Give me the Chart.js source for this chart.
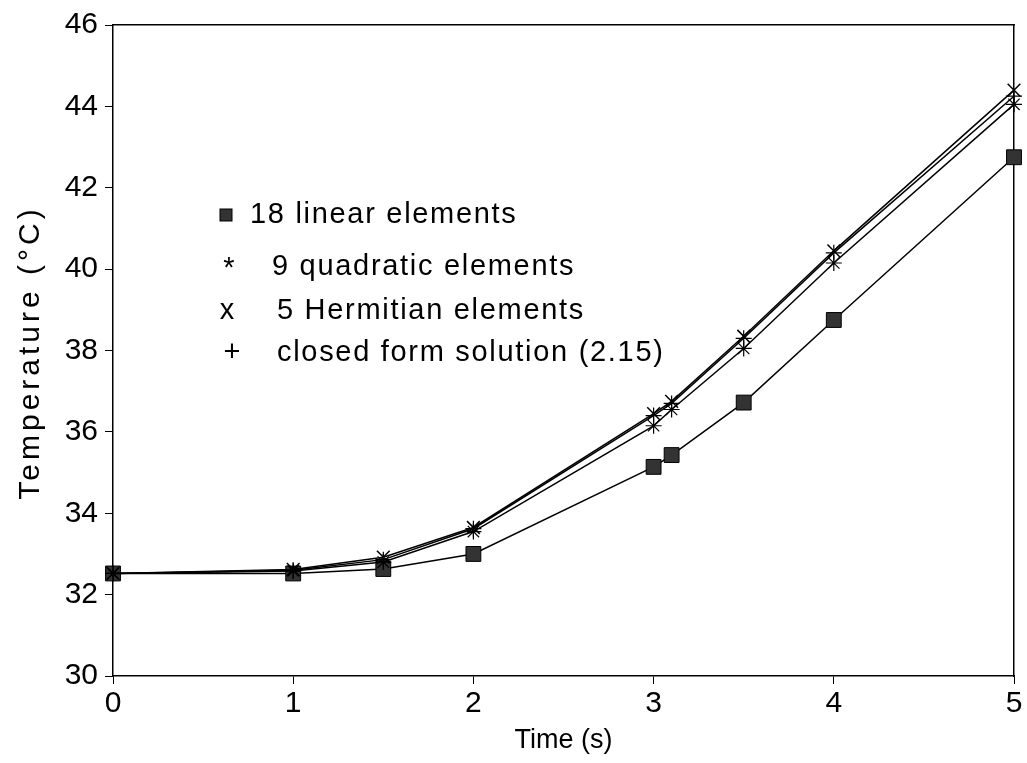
<!DOCTYPE html>
<html>
<head>
<meta charset="utf-8">
<script src="https://cdn.jsdelivr.net/npm/chart.js@4/dist/chart.umd.min.js"></script>
<style>
html,body{margin:0;padding:0;background:#fff;}
#wrap{width:1027px;height:763px;position:relative;}
</style>
</head>
<body>
<div id="wrap"><canvas id="c" width="1027" height="763"></canvas></div>
<script>
// ---- data ----
const times = [0, 1, 1.5, 2, 3, 3.1, 3.5, 4, 5];
const linear18 = [32.52, 32.52, 32.63, 33.0, 35.14, 35.43, 36.72, 38.75, 42.75];
const quadratic9 = [32.52, 32.58, 32.8, 33.55, 36.15, 36.55, 38.05, 40.15, 44.05];
const hermitian5 = [32.52, 32.62, 32.92, 33.65, 36.45, 36.75, 38.35, 40.45, 44.4];
const closedForm = [32.52, 32.6, 32.86, 33.62, 36.4, 36.7, 38.3, 40.4, 44.25];
const seriesLabels = ['18 linear elements', '9 quadratic elements', '5 Hermitian elements', 'closed form solution (2.15)'];
const legendSymbols = ['', '*', 'x', '+'];
const yTicks = [30, 32, 34, 36, 38, 40, 42, 44, 46];
const xTicks = [0, 1, 2, 3, 4, 5];
const xTitle = 'Time (s)';
const yTitle = 'Temperature (°C)';

const FONT = "'Liberation Sans', Arial, Helvetica, sans-serif";

function pts(ys) { return times.map((t, i) => ({x: t, y: ys[i]})); }

const legendPlugin = {
  id: 'insideLegend',
  afterDatasetsDraw(chart) {
    const ctx = chart.ctx;
    const ca = chart.chartArea;
    const x0 = ca.left;
    ctx.save();
    ctx.fillStyle = '#000';
    ctx.textBaseline = 'middle';
    ctx.font = '29px ' + FONT;
    const rows = [
      {sx: 113, sy: 190, tx: 137, ty: 190},
      {sx: 116, sy: 244, tx: 159, ty: 242},
      {sx: 114, sy: 286, tx: 164, ty: 286},
      {sx: 119, sy: 328, tx: 164, ty: 328}
    ];
    rows.forEach((r, i) => {
      const sy = ca.top + r.sy;
      const sx = x0 + r.sx;
      ctx.letterSpacing = '0px';
      if (i === 0) {
        ctx.fillStyle = '#333';
        ctx.fillRect(sx - 6, sy - 6, 12, 12);
        ctx.strokeStyle = '#000';
        ctx.lineWidth = 1;
        ctx.strokeRect(sx - 6, sy - 6, 12, 12);
        ctx.fillStyle = '#000';
      } else {
        ctx.textAlign = 'center';
        ctx.fillText(legendSymbols[i], sx, sy);
      }
      ctx.textAlign = 'left';
      ctx.letterSpacing = '1.7px';
      ctx.fillText(seriesLabels[i], x0 + r.tx, ca.top + r.ty);
    });
    // y axis title, spread like the reference
    ctx.save();
    ctx.translate(31, (ca.top + ca.bottom) / 2 + 2);
    ctx.rotate(-Math.PI / 2);
    ctx.font = '30px ' + FONT;
    ctx.letterSpacing = '4px';
    ctx.textAlign = 'center';
    ctx.textBaseline = 'middle';
    ctx.fillText(yTitle, 0, 0);
    ctx.restore();
    ctx.restore();
  }
};

const common = {
  borderColor: '#000',
  borderWidth: 1.5,
  tension: 0,
  fill: false,
  clip: false
};

new Chart(document.getElementById('c'), {
  type: 'line',
  data: {
    datasets: [
      Object.assign({}, common, {
        label: seriesLabels[3], data: pts(closedForm),
        pointStyle: 'cross', pointRadius: 8, pointBorderColor: '#000', pointBorderWidth: 1.2, pointBackgroundColor: '#000'
      }),
      Object.assign({}, common, {
        label: seriesLabels[2], data: pts(hermitian5),
        pointStyle: 'crossRot', pointRadius: 9, pointBorderColor: '#000', pointBorderWidth: 1.5, pointBackgroundColor: '#000'
      }),
      Object.assign({}, common, {
        label: seriesLabels[1], data: pts(quadratic9),
        pointStyle: 'star', pointRadius: 8, pointBorderColor: '#000', pointBorderWidth: 1.2, pointBackgroundColor: '#000'
      }),
      Object.assign({}, common, {
        label: seriesLabels[0], data: pts(linear18),
        pointStyle: 'rect', pointRadius: 10.5, pointBorderColor: '#000', pointBorderWidth: 1, pointBackgroundColor: '#333'
      })
    ]
  },
  options: {
    responsive: false,
    animation: false,
    devicePixelRatio: 1,
    layout: {padding: {top: 20, right: 13, left: 0, bottom: 0}},
    plugins: {legend: {display: false}, tooltip: {enabled: false}},
    scales: {
      x: {
        type: 'linear', position: 'bottom', min: 0, max: 5,
        afterBuildTicks: s => { s.ticks = xTicks.map(v => ({value: v})); },
        afterFit: s => { s.height = 87; },
        grid: {display: true, drawOnChartArea: false, drawTicks: true, tickLength: 8, tickColor: '#000', color: '#000'},
        border: {display: true, color: '#000', width: 1.5},
        ticks: {color: '#000', font: {family: FONT, size: 30}, padding: 2, maxRotation: 0},
        title: {display: true, text: xTitle, color: '#000', font: {family: FONT, size: 27}, padding: {top: 0, bottom: 6}}
      },
      y: {
        type: 'linear', position: 'left', min: 30, max: 46,
        afterBuildTicks: s => { s.ticks = yTicks.map(v => ({value: v})); },
        afterFit: s => { s.width = 113; },
        grid: {display: true, drawOnChartArea: false, drawTicks: true, tickLength: 8, tickColor: '#000', color: '#000'},
        border: {display: true, color: '#000', width: 1.5},
        ticks: {color: '#000', font: {family: FONT, size: 30}, padding: 7},
        title: {display: false}
      },
      x2: {
        type: 'linear', position: 'top', min: 0, max: 5,
        afterFit: s => { s.height = 0; },
        grid: {display: false}, ticks: {display: false},
        border: {display: true, color: '#000', width: 1.5}
      },
      y2: {
        type: 'linear', position: 'right', min: 30, max: 46,
        afterFit: s => { s.width = 0; },
        grid: {display: false}, ticks: {display: false},
        border: {display: true, color: '#000', width: 1.5}
      }
    }
  },
  plugins: [legendPlugin]
});
</script>
</body>
</html>
